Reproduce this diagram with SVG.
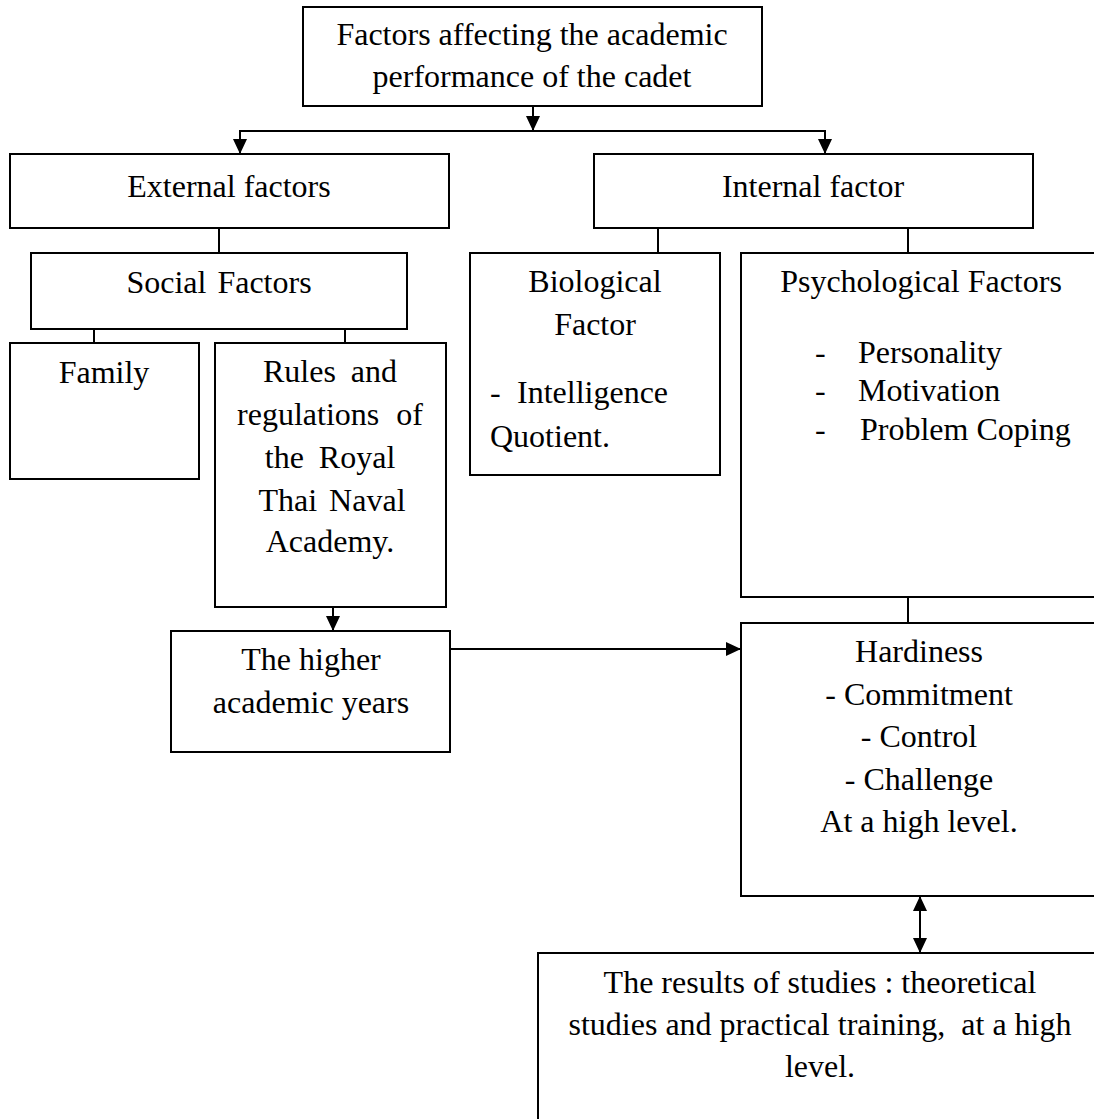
<svg xmlns="http://www.w3.org/2000/svg" width="1094" height="1119" viewBox="0 0 1094 1119">
<style>
  .box { fill: #ffffff; stroke: #000000; stroke-width: 2; }
  .t { font-family: "Liberation Serif", "Times New Roman", serif; font-size: 32px; fill: #000000; }
  .c { text-anchor: middle; }
  .conn { stroke: #000000; stroke-width: 2; fill: none; }
</style>
<defs>
  <marker id="arr" viewBox="0 0 15 14" refX="15" refY="7" markerWidth="15" markerHeight="14" markerUnits="userSpaceOnUse" orient="auto-start-reverse">
    <path d="M0,0 L15,7 L0,14 z" fill="#000000"/>
  </marker>
</defs>
<rect width="1094" height="1119" fill="#ffffff"/>

<g id="connectors">
  <line class="conn" x1="533" y1="106" x2="533" y2="131" marker-end="url(#arr)"/>
  <line class="conn" x1="239" y1="131" x2="826" y2="131"/>
  <line class="conn" x1="240" y1="131" x2="240" y2="154" marker-end="url(#arr)"/>
  <line class="conn" x1="825" y1="131" x2="825" y2="154" marker-end="url(#arr)"/>
  <line class="conn" x1="219" y1="228" x2="219" y2="253"/>
  <line class="conn" x1="94" y1="329" x2="94" y2="343"/>
  <line class="conn" x1="345" y1="329" x2="345" y2="343"/>
  <line class="conn" x1="658" y1="228" x2="658" y2="253"/>
  <line class="conn" x1="908" y1="228" x2="908" y2="253"/>
  <line class="conn" x1="333" y1="607" x2="333" y2="631" marker-end="url(#arr)"/>
  <line class="conn" x1="450" y1="649" x2="741" y2="649" marker-end="url(#arr)"/>
  <line class="conn" x1="908" y1="597" x2="908" y2="623"/>
  <line class="conn" x1="920" y1="896" x2="920" y2="953" marker-start="url(#arr)" marker-end="url(#arr)"/>
</g>

<g id="node-title">
  <rect class="box" x="303" y="7" width="459" height="99"/>
  <text class="t c" x="532" y="45">Factors affecting the academic</text>
  <text class="t c" x="532" y="87">performance of the cadet</text>
</g>

<g id="node-external">
  <rect class="box" x="10" y="154" width="439" height="74"/>
  <text class="t c" x="229" y="197">External factors</text>
</g>

<g id="node-internal">
  <rect class="box" x="594" y="154" width="439" height="74"/>
  <text class="t c" x="813" y="197">Internal factor</text>
</g>

<g id="node-social">
  <rect class="box" x="31" y="253" width="376" height="76"/>
  <text class="t c" x="219" y="293" word-spacing="3">Social Factors</text>
</g>

<g id="node-family">
  <rect class="box" x="10" y="343" width="189" height="136"/>
  <text class="t c" x="104" y="383">Family</text>
</g>

<g id="node-rules">
  <rect class="box" x="215" y="343" width="231" height="264"/>
  <text class="t c" x="330" y="382" word-spacing="7">Rules and</text>
  <text class="t c" x="330" y="425" word-spacing="9">regulations of</text>
  <text class="t c" x="330" y="468" word-spacing="7">the Royal</text>
  <text class="t c" x="332" y="511" word-spacing="4">Thai Naval</text>
  <text class="t c" x="330" y="552">Academy.</text>
</g>

<g id="node-biological">
  <rect class="box" x="470" y="253" width="250" height="222"/>
  <text class="t c" x="595" y="292">Biological</text>
  <text class="t c" x="595" y="335">Factor</text>
  <text class="t" y="403"><tspan x="490">-</tspan><tspan x="517">Intelligence</tspan></text>
  <text class="t" x="490" y="447">Quotient.</text>
</g>

<g id="node-psychological">
  <rect class="box" x="741" y="253" width="370" height="344"/>
  <text class="t c" x="921" y="292">Psychological Factors</text>
  <text class="t" y="363"><tspan x="815">-</tspan><tspan x="858">Personality</tspan></text>
  <text class="t" y="401"><tspan x="815">-</tspan><tspan x="858">Motivation</tspan></text>
  <text class="t" y="440"><tspan x="815">-</tspan><tspan x="860">Problem Coping</tspan></text>
</g>

<g id="node-higher">
  <rect class="box" x="171" y="631" width="279" height="121"/>
  <text class="t c" x="311" y="670">The higher</text>
  <text class="t c" x="311" y="713">academic years</text>
</g>

<g id="node-hardiness">
  <rect class="box" x="741" y="623" width="370" height="273"/>
  <text class="t c" x="919" y="662">Hardiness</text>
  <text class="t c" x="919" y="705">- Commitment</text>
  <text class="t c" x="919" y="747">- Control</text>
  <text class="t c" x="919" y="790">- Challenge</text>
  <text class="t c" x="919" y="832">At a high level.</text>
</g>

<g id="node-results">
  <rect class="box" x="538" y="953" width="580" height="200"/>
  <text class="t c" x="820" y="993">The results of studies : theoretical</text>
  <text class="t c" x="820" y="1035" xml:space="preserve">studies and practical training,  at a high</text>
  <text class="t c" x="820" y="1077">level.</text>
</g>
</svg>
